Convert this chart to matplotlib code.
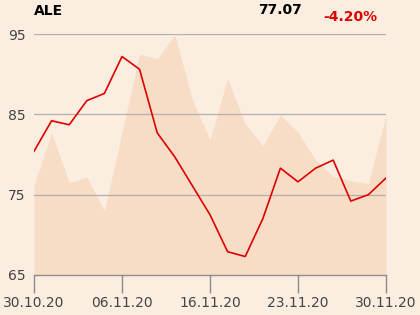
import numpy as np
import matplotlib.pyplot as plt

# daily closes, 30.10.20 - 30.11.20 (21 trading days)
price = [80.4, 84.2, 83.7, 86.7, 87.6, 92.2, 90.6, 82.7, 79.7, 76.1,
         72.5, 67.9, 67.3, 72.0, 78.3, 76.6, 78.3, 79.3, 74.2, 75.0, 77.07]
# shaded background series
shade = [76.2, 82.7, 76.5, 77.2, 73.0, 82.7, 92.5, 91.9, 94.9, 86.8,
         81.8, 89.5, 83.8, 81.1, 84.9, 82.8, 79.3, 77.3, 76.7, 76.4, 84.9]
tick_pos = [0, 5, 10, 15, 20]
tick_labels = ['30.10.20', '06.11.20', '16.11.20', '23.11.20', '30.11.20']
y_ticks = [65, 75, 85, 95]

bg = '#fbede0'
x = np.arange(len(price))

fig = plt.figure(figsize=(4.2, 3.15), dpi=100, facecolor=bg)
ax = fig.add_axes([34/420, 40/315, 352/420, 241/315], facecolor=bg)

ax.fill_between(x, 65, shade, color='#f7dcc6', lw=0, zorder=1)
for v in y_ticks[1:]:
    ax.axhline(v, color='#b3b0ad', lw=0.9, zorder=2)
ax.plot(x, price, color='#dd0000', lw=1.2, zorder=3)

ax.set_xlim(0, 20)
ax.set_ylim(65, 95)
ax.set_xticks(tick_pos)
ax.set_xticklabels(tick_labels)
ax.set_yticks(y_ticks)
for s in ['top', 'right', 'left']:
    ax.spines[s].set_visible(False)
ax.spines['bottom'].set_color('#8f8c8a')
ax.spines['bottom'].set_linewidth(1)
ax.tick_params(axis='x', length=13, width=1, color='#8f8c8a', labelsize=10,
               labelcolor='#444444', pad=2)
ax.tick_params(axis='y', length=0, labelsize=10, labelcolor='#444444', pad=6)

fig.text(34/420, 1 - 11/315, 'ALE', fontsize=10, fontweight='bold', va='center', ha='left')
fig.text(302/420, 1 - 10/315, '77.07', fontsize=10, fontweight='bold', va='center', ha='right')
fig.text(377/420, 1 - 17/315, '-4.20%', fontsize=10, fontweight='bold', color='#dd0000',
         va='center', ha='right')

fig.savefig('out.png', dpi=100, facecolor=bg)
